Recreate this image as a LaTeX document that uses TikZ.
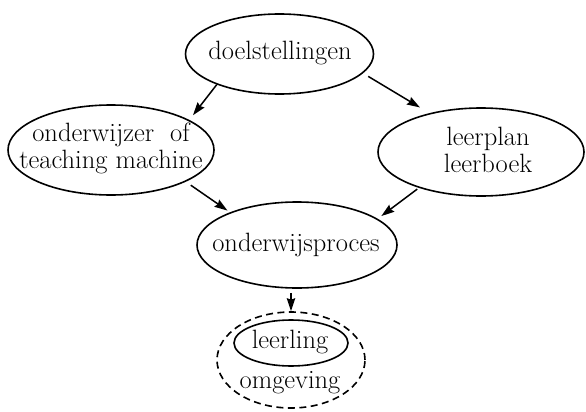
\documentclass[tikz,border=0pt]{standalone}
\usetikzlibrary{shapes.geometric,arrows.meta}
\begin{document}
\begin{tikzpicture}[x=1pt,y=-1pt,
  oval/.style={draw, ellipse, line width=1.6pt, inner sep=0pt},
  ovaldash/.style={oval, dash pattern=on 7pt off 4.5pt},
  lbl/.style={inner sep=0pt, align=center, font=\fontsize{26.5}{27}\selectfont},
  arr/.style={line width=1.5pt, -{Stealth[length=13pt,width=8.5pt,inset=1.5pt]}}]
\useasboundingbox (0,0) rectangle (586,412);

% ellipses
\node[oval, minimum width=188pt, minimum height=80pt] (doel) at (279.5,54) {};
\node[oval, minimum width=206pt, minimum height=90pt] (left) at (111,150) {};
\node[oval, minimum width=206pt, minimum height=88pt] (right) at (481,152) {};
\node[oval, minimum width=200pt, minimum height=86pt] (proc) at (297,245) {};
\node[ovaldash, minimum width=148pt, minimum height=96pt] (omg) at (291,360) {};
\node[oval, minimum width=114pt, minimum height=46pt] (leer) at (291,343) {};

% texts
\node[lbl] (doelt) at (280,53) {doelstellingen};
\node[lbl] (leftt) at (111,148) {onderwijzer\ \ of\\teaching machine};
\node[lbl] (rightt) at (488,150) {leerplan\\leerboek};
\node[lbl] (proct) at (296,245) {onderwijsproces};
\node[lbl] (leert) at (290,342) {leerling};
\node[lbl] (omgt) at (290,383) {omgeving};

% connectors
\draw[arr, shorten >=6pt] (doel.206) -- (left.21);
\draw[arr, shorten <=6pt, shorten >=11pt] (doel.347) -- (right.143);
\draw[arr, shorten <=6pt, shorten >=3pt] (left.337) -- (proc.154);
\draw[arr, shorten <=2pt, shorten >=4.5pt] (right.210) -- (proc.18);
\draw[arr, shorten <=4pt] (proc.south -| omg.north) -- (omg.north);
\end{tikzpicture}
\end{document}
